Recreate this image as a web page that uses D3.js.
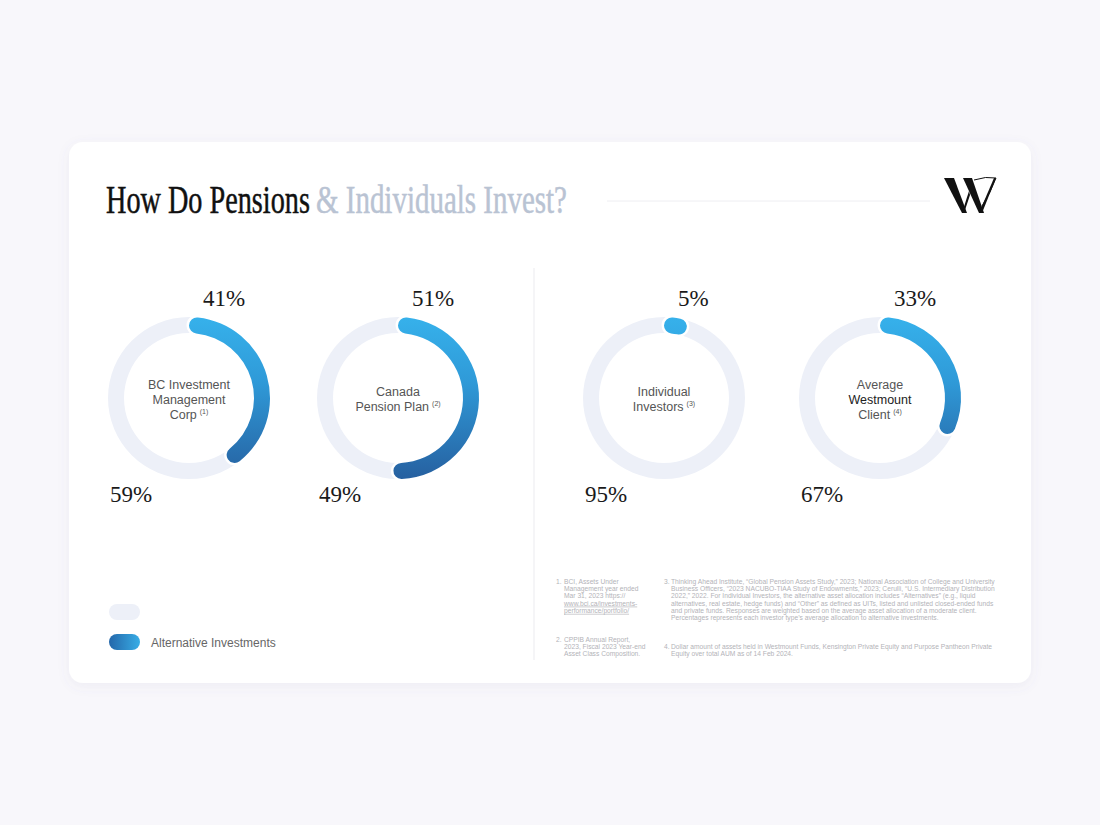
<!DOCTYPE html>
<html><head><meta charset="utf-8">
<script src="https://cdn.jsdelivr.net/npm/d3@7"></script>
<style>
html,body{margin:0;padding:0;background:#f8f7fb;}
svg{display:block;}
</style></head>
<body>
<svg id="chart" width="1100" height="825"></svg>
<script>
// ---------- DATA ----------
const categories = ["BC Investment Management Corp", "Canada Pension Plan", "Individual Investors", "Average Westmount Client"];
const groups = ["Pensions", "Pensions", "Individuals", "Individuals"];
const altValues = [41, 51, 5, 33];          // Alternative investments (%)
const otherValues = [59, 49, 95, 67];       // Remainder (%)
const centerLabels = [
  [["BC Investment"], ["Management"], ["Corp", "(1)"]],
  [["Canada"], ["Pension Plan", "(2)"]],
  [["Individual"], ["Investors", "(3)"]],
  [["Average"], ["Westmount"], ["Client", "(4)"]]
];
const boldLines = [[], [], [], [1]];
const titleDark = "How Do Pensions";
const titleLight = "& Individuals Invest?";
const legendItems = ["", "Alternative Investments"];
const footnotesA = [
  {n: "1.", lines: ["BCI, Assets Under", "Management year ended", "Mar 31, 2023 https://", "www.bci.ca/investments-", "performance/portfolio/"], underline: [3, 4]},
  {n: "2.", lines: ["CPPIB Annual Report,", "2023, Fiscal 2023 Year-end", "Asset Class Composition."], underline: []}
];
const footnotesB = [
  {n: "3.", lines: [
    "Thinking Ahead Institute, “Global Pension Assets Study,” 2023; National Association of College and University",
    "Business Officers, “2023 NACUBO-TIAA Study of Endowments,” 2023; Cerulli, “U.S. Intermediary Distribution",
    "2022,” 2022. For Individual Investors, the alternative asset allocation includes “Alternatives” (e.g., liquid",
    "alternatives, real estate, hedge funds) and “Other” as defined as UITs, listed and unlisted closed-ended funds",
    "and private funds. Responses are weighted based on the average asset allocation of a moderate client.",
    "Percentages represents each investor type’s average allocation to alternative investments."]},
  {n: "4.", lines: [
    "Dollar amount of assets held in Westmount Funds, Kensington Private Equity and Purpose Pantheon Private",
    "Equity over total AUM as of 14 Feb 2024."]}
];

// ---------- LAYOUT ----------
const svg = d3.select("#chart");
const SANS = "Helvetica, Arial, 'Liberation Sans', sans-serif";
const SERIF = "'Liberation Serif', 'Times New Roman', serif";
const defs = svg.append("defs");

const sh = defs.append("filter").attr("id", "shadow").attr("x", "-10%").attr("y", "-10%").attr("width", "120%").attr("height", "130%");
sh.append("feDropShadow").attr("dx", 0).attr("dy", 3).attr("stdDeviation", 6).attr("flood-color", "#6a6a90").attr("flood-opacity", 0.08);

// Card
svg.append("rect").attr("x", 69).attr("y", 142).attr("width", 962).attr("height", 541)
  .attr("rx", 14).attr("fill", "#ffffff").attr("filter", "url(#shadow)");

// Title (condensed by horizontal scaling)
function condensedText(str, x, y, width, color) {
  const g = svg.append("g");
  const t = g.append("text").attr("x", 0).attr("y", 0)
    .attr("font-family", SERIF).attr("font-size", 39).attr("fill", color)
    .attr("stroke", color).attr("stroke-width", 0.5).text(str);
  const natural = t.node().getComputedTextLength();
  g.attr("transform", `translate(${x},${y}) scale(${width / natural},1)`);
}
condensedText(titleDark, 106, 213, 204, "#111");
condensedText(titleLight, 316, 213, 251, "#b9c3d3");
svg.append("line").attr("x1", 607).attr("x2", 930).attr("y1", 201).attr("y2", 201)
  .attr("stroke", "#eeeef2").attr("stroke-width", 1);

// Logo
const logo = svg.append("g").attr("fill", "#111");
logo.append("path").attr("d", "M944,178 L954,178 L967,213 L962,213 Z");
logo.append("path").attr("d", "M962,213 L964,213 L970,195 L969,191 Z");
logo.append("path").attr("d", "M963,178 L972,178 L984,213 L979,213 Z");
logo.append("path").attr("d", "M979,213 L982,213 L996,178 L994,178 Z");
logo.append("path").attr("d", "M974,180 Q986,176 996,178 Q991,192 982,206")
  .attr("fill", "none").attr("stroke", "#111").attr("stroke-width", 1);

// Divider
svg.append("line").attr("x1", 534).attr("x2", 534).attr("y1", 268).attr("y2", 660)
  .attr("stroke", "#ebebef").attr("stroke-width", 1);

// Donut scales
const xPensions = d3.scalePoint().domain(categories.slice(0, 2)).range([189, 398]);
const xIndiv = d3.scalePoint().domain(categories.slice(2, 4)).range([664, 880]);
const xPos = (c, i) => groups[i] === "Pensions" ? xPensions(c) : xIndiv(c);
const cy = 398;
const rOuter = 81, rInner = 65;
const angle = d3.scaleLinear().domain([0, 100]).range([0, 2 * Math.PI]);

const track = d3.arc().innerRadius(rInner).outerRadius(rOuter).startAngle(0).endAngle(2 * Math.PI);
const valueArc = d3.arc().innerRadius(rInner).outerRadius(rOuter).cornerRadius((rOuter - rInner) / 2).startAngle(0);

const grad = defs.append("linearGradient").attr("id", "arcGrad").attr("gradientUnits", "userSpaceOnUse")
  .attr("x1", 0).attr("y1", -rOuter).attr("x2", 0).attr("y2", rOuter);
grad.append("stop").attr("offset", "0%").attr("stop-color", "#36b1eb");
grad.append("stop").attr("offset", "40%").attr("stop-color", "#2f9ad8");
grad.append("stop").attr("offset", "100%").attr("stop-color", "#2660a0");

categories.forEach((c, i) => {
  const cx = xPos(c, i);
  const grp = svg.append("g").attr("transform", `translate(${cx},${cy})`);
  grp.append("path").attr("d", track()).attr("fill", "#edf0f8");
  grp.append("path").attr("d", valueArc({endAngle: angle(altValues[i])}))
    .attr("fill", "url(#arcGrad)").attr("stroke", "#ffffff").attr("stroke-width", 5)
    .style("paint-order", "stroke");

  // percentage labels
  svg.append("text").attr("x", cx + 14).attr("y", 306)
    .attr("font-family", SERIF).attr("font-size", 23).attr("fill", "#1a1a1a")
    .text(altValues[i] + "%");
  svg.append("text").attr("x", cx - 79).attr("y", 502)
    .attr("font-family", SERIF).attr("font-size", 23).attr("fill", "#1a1a1a")
    .text(otherValues[i] + "%");

  // center labels
  const lines = centerLabels[i];
  const lh = 15;
  const y0 = cy - (lines.length - 1) * lh / 2 + 5.5;
  lines.forEach((ln, j) => {
    const t = svg.append("text").attr("x", cx).attr("y", y0 + j * lh)
      .attr("text-anchor", "middle").attr("font-family", SANS).attr("font-size", 12.5)
      .attr("fill", boldLines[i].includes(j) ? "#222" : "#555");
    t.append("tspan").text(ln[0]);
    if (ln[1]) t.append("tspan").attr("font-size", 7).attr("dx", 3).attr("dy", -5).text(ln[1]);
  });
});

// Legend
const lg = defs.append("linearGradient").attr("id", "legGrad").attr("x1", "0%").attr("x2", "100%");
lg.append("stop").attr("offset", "0%").attr("stop-color", "#2467aa");
lg.append("stop").attr("offset", "100%").attr("stop-color", "#38ade6");
const legendY = d3.scalePoint().domain(legendItems.map((d, i) => i)).range([612, 642]);
legendItems.forEach((d, i) => {
  svg.append("rect").attr("x", 109).attr("y", legendY(i) - 8).attr("width", 31).attr("height", 16).attr("rx", 8)
    .attr("fill", i === 0 ? "#edf0f8" : "url(#legGrad)");
  if (d) svg.append("text").attr("x", 151).attr("y", legendY(i) + 4.5)
    .attr("font-family", SANS).attr("font-size", 12).attr("fill", "#666").text(d);
});

// Footnotes
function drawNotes(notes, xNum, xText, starts, lh) {
  notes.forEach((fn, k) => {
    svg.append("text").attr("x", xNum).attr("y", starts[k]).attr("font-family", SANS)
      .attr("font-size", 6.7).attr("fill", "#b3b3b8").text(fn.n);
    fn.lines.forEach((ln, j) => {
      svg.append("text").attr("x", xText).attr("y", starts[k] + j * lh).attr("font-family", SANS)
        .attr("font-size", 6.7).attr("fill", "#b3b3b8")
        .attr("text-decoration", (fn.underline || []).includes(j) ? "underline" : null).text(ln);
    });
  });
}
drawNotes(footnotesA, 556, 564, [584, 642], 7.2);
drawNotes(footnotesB, 664, 671, [584, 649], 7.2);
</script>
</body></html>
